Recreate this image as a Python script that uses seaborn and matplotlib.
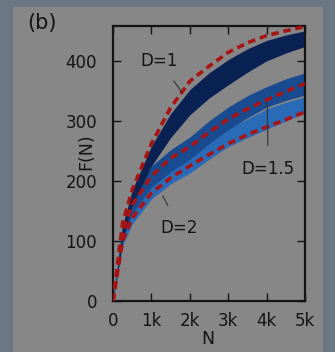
import numpy as np
import pandas as pd
import matplotlib
matplotlib.use("Agg")
import matplotlib.pyplot as plt
import seaborn as sns

# ---- data ----
N = [0, 250, 500, 1000, 1500, 2000, 2500, 3000, 3500, 4000, 4500, 5000]

d1_low = [0, 100, 160, 225, 272, 310, 338, 360, 381, 400, 413, 424]
d1_high = [0, 125, 185, 258, 312, 352, 380, 402, 420, 434, 443, 450]
d15_low = [0, 102, 145, 190, 215, 236, 262, 285, 305, 323, 334, 343]
d15_high = [0, 128, 175, 225, 252, 273, 300, 323, 342, 357, 370, 380]
d2_low = [0, 92, 128, 170, 195, 213, 236, 257, 272, 286, 300, 313]
d2_high = [0, 115, 152, 198, 225, 245, 266, 287, 303, 320, 331, 340]

fit_d1 = [0, 130, 185, 262, 322, 366, 391, 414, 430, 442, 450, 457]
fit_d15 = [0, 115, 160, 208, 238, 257, 281, 303, 320, 335, 349, 362]
fit_d2 = [0, 100, 138, 180, 205, 225, 244, 262, 277, 290, 302, 315]

labels = ["D=1", "D=1.5", "D=2"]
xticks = [0, 1000, 2000, 3000, 4000, 5000]
xticklabels = ["0", "1k", "2k", "3k", "4k", "5k"]
yticks = [0, 100, 200, 300, 400]

sns.set_theme(style="ticks")
plt.rcParams["font.family"] = ["DejaVu Sans"]

OUTER = "#6c7784"
PANEL = "#878787"
INK = "#141414"
FS = 12

fig = plt.figure(figsize=(3.35, 3.52), dpi=100, facecolor=OUTER)
bg = fig.add_axes([13 / 335, 0, 310 / 335, 345 / 352], zorder=-5)
bg.set_axis_off()
bg.add_patch(plt.Rectangle((0, 0), 1, 1, transform=bg.transAxes,
                           facecolor=PANEL, edgecolor="none"))

ax = fig.add_axes([113 / 335, 1 - 301 / 352, 192 / 335, 275 / 352], zorder=1)
ax.set_facecolor(PANEL)

bands = pd.DataFrame({"N": N, "d1_low": d1_low, "d1_high": d1_high,
                      "d15_low": d15_low, "d15_high": d15_high,
                      "d2_low": d2_low, "d2_high": d2_high})
band_specs = [("d2", "#2a6bb8"), ("d15", "#194b91"), ("d1", "#0a2253")]
for key, col in band_specs:
    ax.fill_between(bands["N"], bands[key + "_low"], bands[key + "_high"],
                    color=col, linewidth=0, zorder=2)

fits = pd.DataFrame({"N": N * 3,
                     "F": fit_d1 + fit_d15 + fit_d2,
                     "D": [labels[0]] * len(N) + [labels[1]] * len(N) + [labels[2]] * len(N)})
sns.lineplot(data=fits, x="N", y="F", units="D", estimator=None, ax=ax,
             color="#a81414", linewidth=2.6, legend=False, zorder=3)
for ln in ax.get_lines():
    ln.set_dashes((2.1, 1.3))

ax.set_xlim(0, 5000)
ax.set_ylim(0, 458)
ax.set_xticks(xticks)
ax.set_xticklabels(xticklabels)
ax.set_yticks(yticks)
ax.tick_params(direction="in", length=5.5, width=1, colors=INK, labelsize=FS,
               top=True, right=True)
ax.tick_params(axis="x", pad=8)
ax.tick_params(axis="y", pad=11.5)
for s in ax.spines.values():
    s.set_color(INK)
    s.set_linewidth(1.6)
ax.set_xlabel("N", fontsize=FS + 0.5, color=INK)
ax.set_ylabel("F(N)", fontsize=FS + 0.5, color=INK)
ax.xaxis.set_label_coords(0.495, -0.138)
ax.yaxis.set_label_coords(-0.14, 0.542)
ax.xaxis.label.set_va("center")
ax.yaxis.label.set_va("center")

fig.text(27 / 335, 1 - 23 / 352, "(b)", fontsize=15, color=INK, va="center", ha="left")

# annotations
ax.annotate(labels[0], xy=(1790, 348), xytext=(1200, 400), fontsize=FS, color=INK,
            ha="center", va="center",
            arrowprops=dict(arrowstyle="-", color="#333333", lw=0.8, shrinkA=7, shrinkB=0))
ax.annotate(labels[1], xy=(4020, 330), xytext=(4040, 220), fontsize=FS, color=INK,
            ha="center", va="center",
            arrowprops=dict(arrowstyle="-", color="#333333", lw=0.8, shrinkA=8, shrinkB=0))
ax.annotate(labels[2], xy=(1300, 175), xytext=(1720, 122), fontsize=FS, color=INK,
            ha="center", va="center",
            arrowprops=dict(arrowstyle="-", color="#333333", lw=0.8, shrinkA=8, shrinkB=0))

fig.savefig("out.png", dpi=100, facecolor=OUTER)
